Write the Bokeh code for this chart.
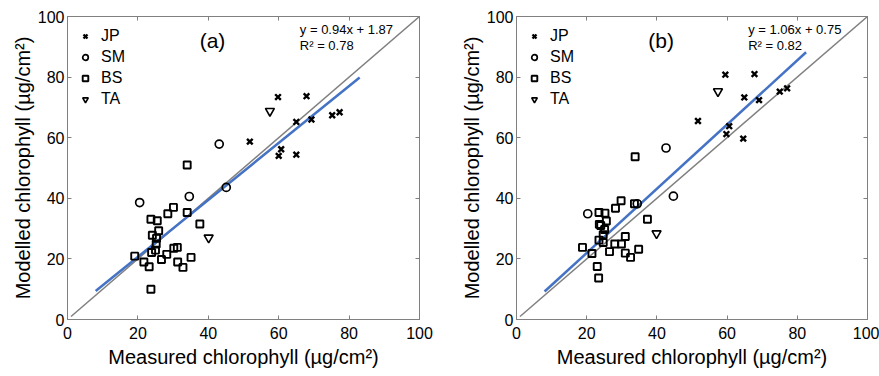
from bokeh.plotting import figure
from bokeh.layouts import row
from bokeh.models import LinearAxis, FixedTicker, Label, Legend, LegendItem, Range1d
from bokeh.embed import file_html
from bokeh.resources import INLINE

# ---------------- data ----------------
ticks = [0, 20, 40, 60, 80, 100]
x_label = "Measured chlorophyll (µg/cm²)"
y_label = "Modelled chlorophyll (µg/cm²)"
series_names = ["JP", "SM", "BS", "TA"]

# panel (a)
a_jp_x = [59.8, 67.9, 51.8, 65.0, 69.3, 75.2, 77.3, 60.7, 60.0, 65.0]
a_jp_y = [73.4, 73.7, 58.7, 65.2, 66.0, 67.4, 68.4, 56.2, 54.0, 54.4]
a_sm_x = [43.1, 20.5, 34.6, 45.1]
a_sm_y = [57.9, 38.6, 40.6, 43.6]
a_bs_x = [34.0, 23.7, 25.5, 28.5, 30.1, 34.0, 37.6, 25.9, 24.1, 25.3, 25.2, 25.0,
          23.9, 19.1, 21.7, 23.2, 26.7, 28.2, 30.2, 31.2, 31.3, 32.8, 35.1, 23.7]
a_bs_y = [51.0, 33.1, 32.6, 34.9, 37.0, 35.3, 31.5, 29.3, 27.8, 26.8, 24.9, 22.9,
          22.1, 20.9, 19.0, 17.4, 19.8, 21.5, 23.5, 23.8, 19.0, 17.2, 20.5, 10.0]
a_ta_x = [57.5, 40.1]
a_ta_y = [68.8, 27.0]
a_slope, a_intercept, a_r2 = 0.94, 1.87, 0.78
a_fit_x = [8, 83]

# panel (b)
b_jp_x = [59.5, 67.8, 51.7, 64.9, 69.1, 75.0, 77.1, 60.6, 59.8, 64.6]
b_jp_y = [80.8, 81.0, 65.5, 73.3, 72.4, 75.2, 76.3, 63.8, 61.2, 59.7]
b_sm_x = [42.6, 20.3, 44.7, 34.4]
b_sm_y = [56.6, 34.9, 40.7, 38.2]
b_bs_x = [33.8, 23.5, 25.2, 28.2, 29.8, 33.6, 37.3, 23.6, 25.6, 24.0, 25.1, 24.7, 23.5,
          24.7, 18.8, 21.5, 23.0, 23.4, 26.5, 28.0, 29.9, 31.0, 31.0, 32.5, 34.8]
b_bs_y = [53.7, 35.3, 35.1, 36.7, 39.2, 38.2, 33.1, 31.4, 32.5, 31.0, 29.7, 28.0, 26.2,
          25.4, 23.8, 21.8, 17.5, 13.7, 22.4, 24.9, 24.9, 27.4, 21.9, 20.5, 23.2]
b_ta_x = [57.4, 39.9]
b_ta_y = [75.3, 28.4]
b_slope, b_intercept, b_r2 = 1.06, 0.75, 0.82
b_fit_x = [8, 82.5]

one_to_one = [1, 100]

FONT = "Liberation Sans"
GRAY = "#808080"
BLUE = "#4472C4"


def make_panel(tag, jp, sm, bs, ta, slope, intercept, r2, fit_x, width, left, right):
    p = figure(width=width, height=376, output_backend="svg", toolbar_location=None,
               x_range=Range1d(0, 100), y_range=Range1d(0, 100),
               min_border_left=left, min_border_right=right,
               min_border_top=16, min_border_bottom=57,
               background_fill_color="white", border_fill_color="white")
    p.xgrid.visible = False
    p.ygrid.visible = False
    p.outline_line_color = GRAY
    p.outline_line_width = 1

    for ax, lab in ((p.xaxis[0], x_label), (p.yaxis[0], y_label)):
        ax.ticker = FixedTicker(ticks=ticks)
        ax.axis_label = lab
        ax.axis_label_text_font = FONT
        ax.axis_label_text_font_size = "20px"
        ax.axis_label_text_font_style = "normal"
        ax.axis_label_text_color = "black"
        ax.major_label_text_font = FONT
        ax.major_label_text_font_size = "16px"
        ax.major_label_text_color = "black"
        ax.axis_line_color = GRAY
        ax.major_tick_line_color = GRAY
        ax.major_tick_in = 4
        ax.major_tick_out = 0
        ax.minor_tick_line_color = None
    p.xaxis[0].major_label_standoff = 7
    p.xaxis[0].axis_label_standoff = 4
    p.yaxis[0].major_label_standoff = 3
    p.yaxis[0].axis_label_standoff = 1

    for side in ("above", "right"):
        ax = LinearAxis(ticker=FixedTicker(ticks=ticks))
        ax.major_label_overrides = {t: "" for t in ticks}
        ax.major_label_text_alpha = 0
        ax.major_label_standoff = 0
        ax.axis_line_color = GRAY
        ax.major_tick_line_color = GRAY
        ax.major_tick_in = 4
        ax.major_tick_out = 0
        ax.minor_tick_line_color = None
        p.add_layout(ax, side)

    p.line(one_to_one, one_to_one, line_color=GRAY, line_width=1.5)
    fit_y = [slope * v + intercept for v in fit_x]
    p.line(fit_x, fit_y, line_color=BLUE, line_width=2.5)

    r_jp = p.scatter(jp[0], jp[1], marker="x", size=8, line_color="black", line_width=2.4)
    r_sm = p.scatter(sm[0], sm[1], marker="circle", size=8, line_color="black",
                     fill_color=None, line_width=1.7)
    r_bs = p.scatter(bs[0], bs[1], marker="square", size=7, line_color="black",
                     fill_color=None, line_width=1.9)
    r_ta = p.scatter(ta[0], ta[1], marker="inverted_triangle", size=9, line_color="black",
                     fill_color=None, line_width=1.6)

    legend = Legend(items=[LegendItem(label=n, renderers=[r])
                           for n, r in zip(series_names, [r_jp, r_sm, r_bs, r_ta])],
                    location="top_left", margin=11, padding=10,
                    glyph_width=14, glyph_height=14, label_height=14,
                    label_standoff=9, spacing=3,
                    label_text_font=FONT, label_text_font_size="16px",
                    label_text_color="black",
                    background_fill_alpha=0, border_line_color=None)
    p.add_layout(legend)

    p.add_layout(Label(x=41.2, y=92, text=tag, text_font=FONT, text_font_size="21px",
                       text_color="black", text_align="center", text_baseline="middle"))
    p.add_layout(Label(x=66, y=95.6, text=f"y = {slope:.2f}x + {intercept:.2f}",
                       text_font=FONT, text_font_size="13px", text_color="black",
                       text_align="left", text_baseline="middle"))
    p.add_layout(Label(x=66, y=90.3, text=f"R² = {r2:.2f}",
                       text_font=FONT, text_font_size="13px", text_color="black",
                       text_align="left", text_baseline="middle"))
    return p


pa = make_panel("(a)", (a_jp_x, a_jp_y), (a_sm_x, a_sm_y), (a_bs_x, a_bs_y), (a_ta_x, a_ta_y),
                a_slope, a_intercept, a_r2, a_fit_x, width=449, left=67, right=30)
pb = make_panel("(b)", (b_jp_x, b_jp_y), (b_sm_x, b_sm_y), (b_bs_x, b_bs_y), (b_ta_x, b_ta_y),
                b_slope, b_intercept, b_r2, b_fit_x, width=430, left=67, right=12)

layout = row(pa, pb)
open("out.html", "w").write(file_html(layout, INLINE))
